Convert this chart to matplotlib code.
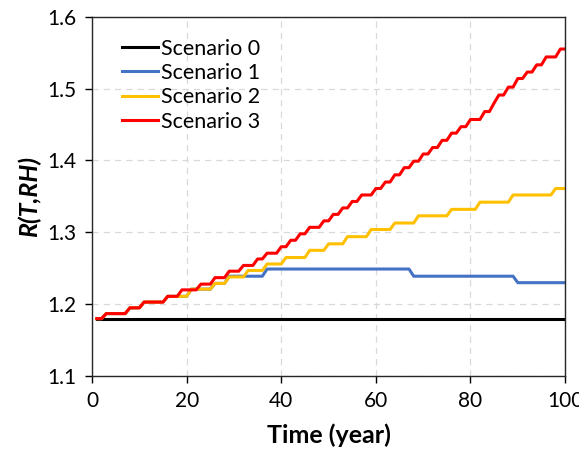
import matplotlib
matplotlib.use('Agg')
import matplotlib.pyplot as plt

# ── Datos ──
years = list(range(1, 101))

scenario0 = [1.18] * len(years)

scenario1 = [
    1.180, 1.180, 1.187, 1.187, 1.187, 1.187, 1.187, 1.195, 1.195, 1.195,
    1.203, 1.203, 1.203, 1.203, 1.203, 1.211, 1.211, 1.211, 1.211, 1.211,
    1.221, 1.221, 1.221, 1.221, 1.221, 1.229, 1.229, 1.229, 1.239, 1.239,
    1.239, 1.239, 1.239, 1.239, 1.239, 1.239, 1.249, 1.249, 1.249, 1.249,
    1.249, 1.249, 1.249, 1.249, 1.249, 1.249, 1.249, 1.249, 1.249, 1.249,
    1.249, 1.249, 1.249, 1.249, 1.249, 1.249, 1.249, 1.249, 1.249, 1.249,
    1.249, 1.249, 1.249, 1.249, 1.249, 1.249, 1.249, 1.239, 1.239, 1.239,
    1.239, 1.239, 1.239, 1.239, 1.239, 1.239, 1.239, 1.239, 1.239, 1.239,
    1.239, 1.239, 1.239, 1.239, 1.239, 1.239, 1.239, 1.239, 1.239, 1.230,
    1.230, 1.230, 1.230, 1.230, 1.230, 1.230, 1.230, 1.230, 1.230, 1.230,
]

scenario2 = [
    1.180, 1.180, 1.187, 1.187, 1.187, 1.187, 1.187, 1.195, 1.195, 1.195,
    1.203, 1.203, 1.203, 1.203, 1.203, 1.211, 1.211, 1.211, 1.211, 1.211,
    1.221, 1.221, 1.221, 1.221, 1.221, 1.229, 1.229, 1.229, 1.238, 1.238,
    1.238, 1.238, 1.247, 1.247, 1.247, 1.247, 1.256, 1.256, 1.256, 1.256,
    1.265, 1.265, 1.265, 1.265, 1.265, 1.275, 1.275, 1.275, 1.275, 1.284,
    1.284, 1.284, 1.284, 1.294, 1.294, 1.294, 1.294, 1.294, 1.304, 1.304,
    1.304, 1.304, 1.304, 1.313, 1.313, 1.313, 1.313, 1.313, 1.323, 1.323,
    1.323, 1.323, 1.323, 1.323, 1.323, 1.332, 1.332, 1.332, 1.332, 1.332,
    1.332, 1.342, 1.342, 1.342, 1.342, 1.342, 1.342, 1.342, 1.352, 1.352,
    1.352, 1.352, 1.352, 1.352, 1.352, 1.352, 1.352, 1.361, 1.361, 1.361,
]

scenario3 = [
    1.180, 1.180, 1.187, 1.187, 1.187, 1.187, 1.187, 1.195, 1.195, 1.195,
    1.203, 1.203, 1.203, 1.203, 1.203, 1.211, 1.211, 1.211, 1.220, 1.220,
    1.220, 1.220, 1.228, 1.228, 1.228, 1.237, 1.237, 1.237, 1.246, 1.246,
    1.246, 1.254, 1.254, 1.254, 1.263, 1.263, 1.271, 1.271, 1.271, 1.280,
    1.280, 1.289, 1.289, 1.298, 1.298, 1.307, 1.307, 1.307, 1.316, 1.316,
    1.325, 1.325, 1.334, 1.334, 1.343, 1.343, 1.352, 1.352, 1.352, 1.361,
    1.361, 1.370, 1.370, 1.380, 1.380, 1.390, 1.390, 1.399, 1.399, 1.409,
    1.409, 1.418, 1.418, 1.428, 1.428, 1.438, 1.438, 1.447, 1.447, 1.457,
    1.457, 1.457, 1.468, 1.468, 1.480, 1.491, 1.491, 1.502, 1.502, 1.514,
    1.514, 1.523, 1.523, 1.533, 1.533, 1.544, 1.544, 1.544, 1.555, 1.555,
]

labels = ['Scenario 0', 'Scenario 1', 'Scenario 2', 'Scenario 3']
colors = ['#000000', '#4472C4', '#FFC000', '#FF0000']

x_ticks = [0, 20, 40, 60, 80, 100]
y_ticks = [1.1, 1.2, 1.3, 1.4, 1.5, 1.6]

plt.rcParams['font.family'] = ['Lato', 'DejaVu Sans']

fig = plt.figure(figsize=(5.79, 4.51), dpi=100)
ax = fig.add_axes([0.159, 0.166, 0.817, 0.797])

for series, lab, col in zip([scenario0, scenario1, scenario2, scenario3], labels, colors):
    ax.plot(years, series, color=col, linewidth=2.2, label=lab, solid_joinstyle='round')

ax.set_xlim(0, 100)
ax.set_ylim(1.1, 1.6)
ax.set_xticks(x_ticks)
ax.set_yticks(y_ticks)
ax.set_yticklabels(['{:.1f}'.format(v) for v in y_ticks])
ax.tick_params(direction='out', length=5, width=1, labelsize=15, colors='#000000', pad=6)

# grid punteado gris claro
ax.grid(True, color='#d9d9d9', linestyle=(0, (5, 4)), linewidth=0.9)
ax.set_axisbelow(True)
for spine in ax.spines.values():
    spine.set_color('#262626')
    spine.set_linewidth(1.0)

ax.set_xlabel('Time (year)', fontsize=18, fontweight='bold', labelpad=9)
ax.set_ylabel('R(T,RH)', fontsize=18, fontweight='bold', style='italic', labelpad=5)

ax.legend(loc='upper left', bbox_to_anchor=(0.035, 0.975), frameon=False, fontsize=15.5,
          handlelength=1.7, handletextpad=0.15, labelspacing=0.2, borderaxespad=0.2)

fig.savefig('out.png', dpi=100, facecolor='white')
